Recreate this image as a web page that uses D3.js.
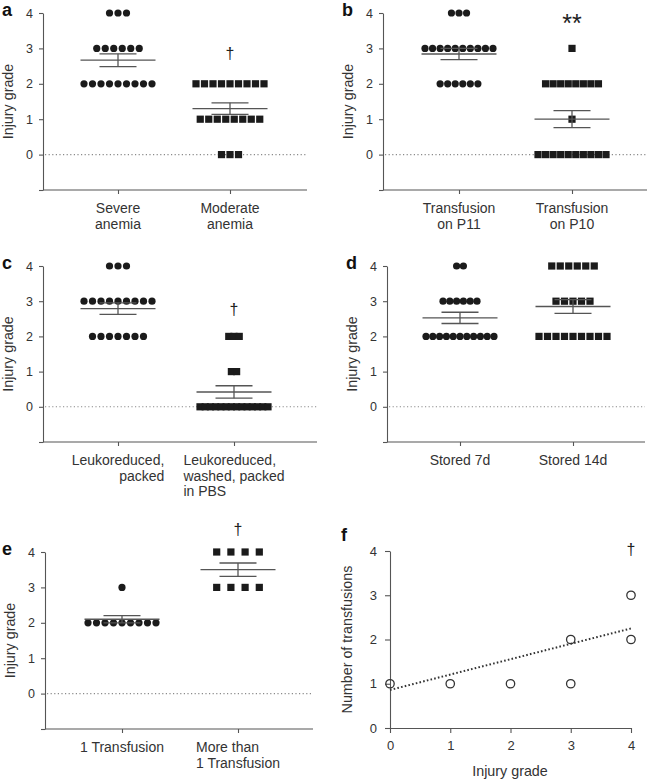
<!DOCTYPE html>
<html><head><meta charset="utf-8">
<script src="https://cdn.jsdelivr.net/npm/d3@7"></script>
<style>
body{margin:0;background:#fff;}
svg{display:block;font-family:"Liberation Sans",Arial,Helvetica,sans-serif;}
</style></head><body>
<svg id="chart" width="649" height="780"></svg>
<script>
// ---------------- DATA ----------------
const yTickValues = [0, 1, 2, 3, 4];
const yAxisTitle = "Injury grade";

const categoriesA = ["Severe\nanemia", "Moderate\nanemia"];
const severeAnemia   = [4,4,4, 3,3,3,3,3,3, 2,2,2,2,2,2,2,2,2];
const moderateAnemia = [2,2,2,2,2,2,2,2,2, 1,1,1,1,1,1,1,1, 0,0,0];

const categoriesB = ["Transfusion\non P11", "Transfusion\non P10"];
const transfusionP11 = [4,4,4, 3,3,3,3,3,3,3,3,3,3, 2,2,2,2,2,2];
const transfusionP10 = [3, 2,2,2,2,2,2,2,2, 1, 0,0,0,0,0,0,0,0,0,0];

const categoriesC = ["Leukoreduced,\npacked", "Leukoreduced,\nwashed, packed\nin PBS"];
const leukoPacked = [4,4,4, 3,3,3,3,3,3,3,3,3, 2,2,2,2,2,2,2];
const leukoWashed = [2,2,2, 1,1, 0,0,0,0,0,0,0,0,0,0,0,0,0,0];

const categoriesD = ["Stored 7d", "Stored 14d"];
const stored7d  = [4,4, 3,3,3,3,3,3, 2,2,2,2,2,2,2,2,2,2,2];
const stored14d = [4,4,4,4,4,4, 3,3,3,3,3, 2,2,2,2,2,2,2,2,2];

const categoriesE = ["1 Transfusion", "More than\n1 Transfusion"];
const oneTransfusion  = [3, 2,2,2,2,2,2,2,2,2];
const moreTransfusion = [4,4,4,4, 3,3,3,3];

const significance = ["†", "**", "†", "", "†"];
const significanceLevel = [2.7, 3.46, 2.61, 0, 4.48];

// panel f
const fTicks = [0, 1, 2, 3, 4];
const fInjuryGrade  = [0, 1, 2, 3, 3, 4, 4];
const fTransfusions = [1, 1, 1, 1, 2, 2, 3];
const fFitGrade = [0, 4];
const fFitTransfusions = [0.86, 2.25];
const fXTitle = "Injury grade";
const fYTitle = "Number of transfusions";
const fSignificance = "†";
const fSignificanceLevel = 3.91;

// ---------------- LAYOUT ----------------
const svg = d3.select("#chart");
const markColor = "#1b1b1b";
const lineColor = "#555";
const textColor = "#333";

const panels = [
  {label:"a", cats:categoriesA, series:[severeAnemia, moderateAnemia], ax:43, right:307, cx:[118,230], top:13, bottom:190, caps:[8.6,8.6], align:["middle","middle"]},
  {label:"b", cats:categoriesB, series:[transfusionP11, transfusionP10], ax:383, right:647, cx:[459,572], top:13, bottom:190, caps:[8.6,8.6], align:["middle","middle"]},
  {label:"c", cats:categoriesC, series:[leukoPacked, leukoWashed], ax:43, right:317, cx:[118,234], top:266, bottom:442, caps:[8.6,8.6], align:["end","start"]},
  {label:"d", cats:categoriesD, series:[stored7d, stored14d], ax:387, right:645, cx:[460,573], top:266, bottom:442, caps:[8.6,8.6], align:["middle","middle"]},
  {label:"e", cats:categoriesE, series:[oneTransfusion, moreTransfusion], ax:45, right:313, cx:[122,238], top:552, bottom:729, caps:[8.9,14.2], align:["middle","start"]},
];

panels.forEach((p, pi) => {
  const g = svg.append("g");
  const y = d3.scaleLinear().domain([-1, 4]).range([p.bottom, p.top]);
  const x = d3.scalePoint().domain(p.cats).range(p.cx);

  // zero dotted line
  g.append("line").attr("x1", p.ax + 2).attr("x2", p.right)
    .attr("y1", y(0)).attr("y2", y(0))
    .attr("stroke", "#8a8a8a").attr("stroke-width", 1.1).attr("stroke-dasharray", "1.2,2.4");

  // y axis
  const yAxis = d3.axisLeft(y).tickValues([-1].concat(yTickValues))
    .tickFormat(d => d < 0 ? "" : d).tickSize(4).tickSizeOuter(0).tickPadding(6);
  const ya = g.append("g").attr("transform", `translate(${p.ax},0)`).call(yAxis);
  ya.select(".domain").attr("stroke", lineColor).attr("stroke-width", 1.1);
  ya.selectAll(".tick line").attr("stroke", lineColor).attr("stroke-width", 1.1);
  ya.selectAll(".tick text").attr("font-size", 12.5).attr("fill", textColor).attr("font-family", "Liberation Sans, Arial, sans-serif");

  // x axis
  g.append("line").attr("x1", p.ax).attr("x2", p.right).attr("y1", p.bottom).attr("y2", p.bottom)
    .attr("stroke", lineColor).attr("stroke-width", 1.1);
  const xAxis = d3.axisBottom(x).tickSize(4).tickSizeOuter(0).tickFormat("");
  const xa = g.append("g").attr("transform", `translate(0,${p.bottom})`).call(xAxis);
  xa.select(".domain").remove();
  xa.selectAll(".tick line").attr("stroke", lineColor).attr("stroke-width", 1.1);

  // category labels (multi-line block centred on tick)
  p.cats.forEach((c, ci) => {
    const lines = c.split("\n");
    const t = g.append("g").attr("transform", `translate(${x(c)},${p.bottom + 23})`);
    const texts = lines.map((l, li) => t.append("text").attr("y", li * 15.5)
      .attr("font-size", 14).attr("fill", textColor).text(l));
    const widths = texts.map(tx => tx.node().getComputedTextLength());
    const W = d3.max(widths);
    texts.forEach((tx, li) => {
      let xx;
      if (p.align[ci] === "start") xx = -W / 2;
      else if (p.align[ci] === "end") xx = W / 2 - widths[li];
      else xx = -widths[li] / 2;
      tx.attr("x", xx);
    });
  });

  // y title
  g.append("text").attr("transform", `translate(${p.ax - 30},${(p.top + p.bottom) / 2}) rotate(-90)`)
    .attr("text-anchor", "middle").attr("font-size", 14.3).attr("fill", textColor).text(yAxisTitle);

  // panel label
  g.append("text").attr("x", p.label === "a" || p.label === "c" || p.label === "e" ? 2 : p.ax - 41)
    .attr("y", p.top + 3).attr("font-size", 18).attr("font-weight", "bold").attr("fill", "#111").text(p.label);

  // points
  p.series.forEach((vals, si) => {
    const cxv = x(p.cats[si]);
    const rows = d3.groups(vals, v => v);
    const maxRow = d3.max(rows, r => r[1].length);
    const spacing = Math.min(p.caps[si], maxRow > 1 ? 68 / (maxRow - 1) : p.caps[si]);
    const pts = [];
    rows.forEach(([grade, arr]) => {
      arr.forEach((v, i) => pts.push({x: cxv + (i - (arr.length - 1) / 2) * spacing, y: y(grade)}));
    });
    if (si === 0) {
      g.selectAll(null).data(pts).enter().append("circle")
        .attr("cx", d => d.x).attr("cy", d => d.y).attr("r", 3.6).attr("fill", markColor);
    } else {
      g.selectAll(null).data(pts).enter().append("rect")
        .attr("x", d => d.x - 3.6).attr("y", d => d.y - 3.6).attr("width", 7.2).attr("height", 7.2).attr("fill", markColor);
    }
    // mean & SEM
    const m = d3.mean(vals);
    const sem = d3.deviation(vals) / Math.sqrt(vals.length);
    const bars = g.append("g").attr("stroke", lineColor).attr("stroke-width", 1.3);
    bars.append("line").attr("x1", cxv - 37.5).attr("x2", cxv + 37.5).attr("y1", y(m)).attr("y2", y(m));
    bars.append("line").attr("x1", cxv - 18.5).attr("x2", cxv + 18.5).attr("y1", y(m + sem)).attr("y2", y(m + sem));
    bars.append("line").attr("x1", cxv - 18.5).attr("x2", cxv + 18.5).attr("y1", y(m - sem)).attr("y2", y(m - sem));
    bars.append("line").attr("x1", cxv).attr("x2", cxv).attr("y1", y(m + sem)).attr("y2", y(m - sem));
  });

  // significance
  if (significance[pi]) {
    const isStar = significance[pi] === "**";
    g.append("text").attr("x", x(p.cats[1])).attr("y", y(significanceLevel[pi]))
      .attr("text-anchor", "middle").attr("font-size", isStar ? 25 : 16).attr("fill", "#222")
      .text(significance[pi]);
  }
});

// ---------------- PANEL F ----------------
(function () {
  const g = svg.append("g");
  const x = d3.scaleLinear().domain([0, 4]).range([390, 631]);
  const y = d3.scaleLinear().domain([0, 4]).range([728, 551]);

  const xa = g.append("g").attr("transform", "translate(0,728)")
    .call(d3.axisBottom(x).tickValues(fTicks).tickFormat(d3.format("d")).tickSize(5).tickSizeOuter(0).tickPadding(8));
  const ya = g.append("g").attr("transform", "translate(390,0)")
    .call(d3.axisLeft(y).tickValues(fTicks).tickFormat(d3.format("d")).tickSize(5).tickSizeOuter(0).tickPadding(8));
  [xa, ya].forEach(a => {
    a.select(".domain").attr("stroke", lineColor).attr("stroke-width", 1.1);
    a.selectAll(".tick line").attr("stroke", lineColor).attr("stroke-width", 1.1);
    a.selectAll(".tick text").attr("font-size", 13).attr("fill", textColor).attr("font-family", "Liberation Sans, Arial, sans-serif");
  });

  const line = d3.line().x(d => x(d[0])).y(d => y(d[1]));
  g.append("path").datum(d3.zip(fFitGrade, fFitTransfusions)).attr("d", line)
    .attr("fill", "none").attr("stroke", "#333").attr("stroke-width", 2).attr("stroke-dasharray", "1.6,2.2");

  g.selectAll(null).data(d3.zip(fInjuryGrade, fTransfusions)).enter().append("circle")
    .attr("cx", d => x(d[0])).attr("cy", d => y(d[1])).attr("r", 4.2)
    .attr("fill", "none").attr("stroke", "#333").attr("stroke-width", 1.3);

  g.append("text").attr("x", 510).attr("y", 776).attr("text-anchor", "middle")
    .attr("font-size", 14.3).attr("fill", textColor).text(fXTitle);
  g.append("text").attr("transform", `translate(352,${(551 + 728) / 2}) rotate(-90)`)
    .attr("text-anchor", "middle").attr("font-size", 14.3).attr("fill", textColor).text(fYTitle);

  g.append("text").attr("x", x(4)).attr("y", y(fSignificanceLevel)).attr("text-anchor", "middle")
    .attr("font-size", 16).attr("fill", "#222").text(fSignificance);

  g.append("text").attr("x", 341).attr("y", 541).attr("font-size", 18).attr("font-weight", "bold")
    .attr("fill", "#111").text("f");
})();
</script>
</body></html>
